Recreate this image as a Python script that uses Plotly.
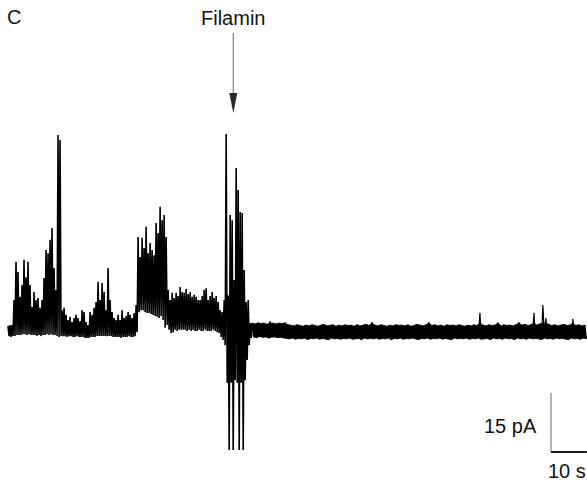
import plotly.graph_objects as go

# ---- Data (current trace, pA) ----
# busy part of the record: samples every FAST_DT seconds
FAST_T0 = 0.28
FAST_DT = 0.556
FAST_TOP = [1.3, 1.5, 1.5, 7.9, 17.6, 15.0, 8.7, 11.7, 18.1, 13.7,
            17.6, 11.7, 6.1, 9.9, 7.9, 8.4, 5.9, 7.9, 13.5, 20.6,
            19.8, 23.2, 26.2, 16.0, 10.4, 49.9, 48.6, 5.3, 5.9, 4.1,
            2.8, 3.6, 2.3, 3.3, 4.1, 3.3, 2.5, 5.3, 4.8, 2.3,
            1.5, 4.8, 4.1, 5.9, 7.4, 12.5, 7.9, 12.2, 9.9, 5.3,
            16.0, 7.9, 4.8, 3.3, 2.8, 4.1, 2.8, 5.3, 3.3, 3.8,
            4.8, 4.1, 3.3, 4.6, 6.6, 23.9, 18.8, 23.7, 21.1, 26.5,
            19.8, 22.4, 20.6, 19.3, 27.5, 24.9, 31.6, 28.2, 29.5, 23.9,
            10.4, 7.9, 9.7, 8.4, 9.7, 8.9, 11.2, 9.9, 9.7, 10.7,
            9.4, 9.9, 8.7, 9.2, 8.7, 7.9, 7.9, 8.9, 10.4, 10.9,
            7.9, 8.9, 9.9, 8.4, 8.9, 7.4, 5.3, 4.8, 7.9, 50.1,
            9.0, 29.5, 28.2, 13.0, 41.5, 35.9, 30.3, 30.0, 15.5, 7.4,
            7.9, 2.0]
FAST_BOT = [-1.3, -1.5, -1.3, -1.3, -1.0, -1.0, -1.0, -0.8, -0.8, -1.0,
            -0.8, -1.0, -1.0, -1.0, -1.3, -1.0, -1.3, -1.0, -1.0, -0.8,
            -1.0, -0.8, -1.0, -1.0, -1.3, -1.5, -1.3, -1.3, -1.3, -1.5,
            -1.3, -1.3, -1.5, -1.5, -1.3, -1.5, -1.5, -1.5, -1.8, -1.8,
            -1.8, -1.5, -1.5, -1.5, -1.3, -1.3, -1.3, -1.3, -1.3, -1.3,
            -1.3, -1.3, -1.5, -1.5, -1.5, -1.5, -1.8, -1.5, -1.5, -1.5,
            -1.3, -1.5, -1.5, -1.3, -0.3, 4.8, 5.3, 5.3, 4.8, 4.6,
            4.6, 4.3, 4.1, 3.8, 3.6, 3.3, 3.8, 2.8, 0.8, 1.5,
            0.3, -0.5, -0.3, 0.3, 0.0, 0.3, 0.3, 0.3, 0.3, 0.0,
            0.3, 0.0, 0.3, 0.0, 0.0, 0.3, 0.0, 0.0, 0.3, 0.0,
            0.0, 0.0, 0.3, 0.0, -0.3, -0.5, -1.5, -2.3, -3.6, -13.2,
            -30.3, -13.2, -30.3, -12.5, -13.2, -30.3, -13.2, -30.3, -12.5, -7.4,
            -3.6, -1.8]

# quiet part of the record after filamin: samples every SLOW_DT seconds
SLOW_T0 = 68.06
SLOW_DT = 0.833
SLOW_TOP = [2.0, 1.8, 2.2, 1.9, 2.1, 1.7, 2.5, 2.0, 1.8, 2.1,
            1.9, 2.2, 1.6, 1.5, 1.3, 1.6, 1.4, 1.2, 1.5, 1.3,
            1.6, 1.4, 1.2, 1.5, 1.7, 1.3, 1.4, 1.6, 1.2, 1.5,
            1.3, 1.6, 1.4, 1.5, 1.2, 1.6, 1.3, 1.5, 1.7, 1.4,
            2.3, 1.5, 1.3, 1.6, 1.4, 1.2, 1.5, 1.3, 1.6, 1.4,
            1.5, 1.3, 1.6, 1.2, 1.4, 1.7, 1.5, 1.3, 1.6, 2.3,
            1.4, 1.6, 1.3, 1.5, 1.2, 1.6, 1.4, 1.5, 1.3, 1.6,
            1.4, 1.2, 1.5, 1.3, 1.6, 1.4, 4.6, 1.5, 1.3, 1.6,
            1.4, 1.5, 2.2, 1.3, 1.6, 1.4, 1.5, 1.3, 1.6, 2.3,
            1.5, 1.7, 1.4, 1.6, 4.6, 1.5, 1.8, 6.6, 3.3, 1.6,
            1.4, 1.6, 1.3, 1.5, 1.7, 1.4, 1.5, 3.1, 1.4, 1.6, 1.3, 1.5]
SLOW_BOT = [-1.5, -1.7, -1.4, -1.6, -1.5, -1.8, -1.6, -1.5, -1.7, -1.6,
            -1.8, -1.9, -2.0, -1.8, -2.1, -1.9, -2.0, -1.8, -2.2, -1.9,
            -2.0, -1.8, -2.1, -1.9, -2.0, -2.2, -1.8, -2.0, -1.9, -2.1,
            -1.9, -2.0, -1.8, -2.1, -2.0, -1.9, -2.2, -1.8, -2.0, -1.9,
            -2.0, -1.8, -2.1, -1.9, -2.0, -1.8, -2.2, -1.9, -2.0, -1.8,
            -2.1, -1.9, -2.0, -1.8, -2.0, -2.2, -1.9, -2.0, -1.8, -2.1,
            -1.9, -2.0, -1.8, -2.1, -1.9, -2.0, -2.2, -1.8, -2.0, -1.9,
            -2.0, -1.8, -2.1, -1.9, -2.0, -1.8, -2.1, -2.0, -1.9, -2.2,
            -1.8, -2.0, -1.9, -2.1, -1.8, -2.0, -1.9, -2.2, -1.8, -2.0,
            -1.9, -2.1, -1.8, -2.0, -1.9, -2.0, -2.2, -1.8, -2.0, -1.9,
            -2.1, -1.8, -2.0, -1.9, -2.0, -2.2, -1.8, -2.0, -1.9, -2.1, -1.8, -2.0]

# scale bar and labels
SCALE_T = 10      # s
SCALE_I = 15      # pA
SCALE_T0 = 151.1  # s, corner of the scale bar
SCALE_I0 = -30.8  # pA
LABEL_PANEL = "C"
LABEL_DRUG = "Filamin"
LABEL_I = "15 pA"
LABEL_T = "10 s"

BAND_CAP = 2.0  # pA; openings above this stay thin lines, not part of the filled noise band


def zigzag(t0, dt, tops, bots):
    xs, ys = [], []
    for i, (a, b) in enumerate(zip(tops, bots)):
        t = t0 + i * dt
        xs += [t, t + dt / 2]
        ys += [a, b]
    return xs, ys


W, H = 587, 481
XR = [-1.944, 161.11]
YR = [-38.17, 84.22]


def px(x):
    return x / W


def py(y):
    return 1 - y / H


fig = go.Figure()
fx, fy = zigzag(FAST_T0, FAST_DT, FAST_TOP, FAST_BOT)
sx, sy = zigzag(SLOW_T0, SLOW_DT, SLOW_TOP, SLOW_BOT)

# solid noise band of the quiet record (envelope fill)
slow_t = [SLOW_T0 + i * SLOW_DT for i in range(len(SLOW_TOP))]
fig.add_trace(go.Scatter(x=slow_t, y=[min(v, BAND_CAP) for v in SLOW_TOP], mode="lines",
                         line=dict(color="#000000", width=0.8),
                         hoverinfo="skip", showlegend=False))
fig.add_trace(go.Scatter(x=[t + SLOW_DT / 2 for t in slow_t], y=SLOW_BOT, mode="lines",
                         line=dict(color="#000000", width=0.8), fill="tonexty",
                         fillcolor="#000000", hoverinfo="skip", showlegend=False))

# the raw record as a dense zigzag
fig.add_trace(go.Scatter(x=fx + sx[:1], y=fy + sy[:1], mode="lines",
                         line=dict(color="#000000", width=1.6),
                         hoverinfo="skip", showlegend=False))
fig.add_trace(go.Scatter(x=sx, y=sy, mode="lines",
                         line=dict(color="#000000", width=1.2),
                         hoverinfo="skip", showlegend=False))

# scale bar
fig.add_shape(type="line", x0=SCALE_T0, x1=SCALE_T0, y0=SCALE_I0, y1=SCALE_I0 + SCALE_I,
              xref="x", yref="y", line=dict(color="#8a8a8a", width=1.3))
fig.add_shape(type="line", x0=SCALE_T0, x1=SCALE_T0 + SCALE_T, y0=SCALE_I0, y1=SCALE_I0,
              xref="x", yref="y", line=dict(color="#1a1a1a", width=2))

# arrow
fig.add_shape(type="line", x0=px(233.3), x1=px(233.3), y0=py(33), y1=py(96),
              xref="paper", yref="paper", line=dict(color="#8a8a8a", width=1.3))
fig.add_shape(type="path",
              path=f"M {px(229.3)},{py(93)} L {px(237.3)},{py(93)} L {px(233.3)},{py(113)} Z",
              xref="paper", yref="paper", fillcolor="#2a2a2a", line=dict(width=0))

font = dict(family="Liberation Sans, Arial, sans-serif", size=20, color="#111111")
for text, x, y in ((LABEL_PANEL, 13.5, 17), (LABEL_DRUG, 233, 18),
                   (LABEL_I, 510, 426), (LABEL_T, 566.5, 471)):
    fig.add_annotation(text=text, x=px(x), y=py(y), xref="paper", yref="paper",
                       xanchor="center", yanchor="middle", showarrow=False, font=font)

fig.update_layout(width=W, height=H, margin=dict(l=0, r=0, t=0, b=0),
                  paper_bgcolor="white", plot_bgcolor="white",
                  xaxis=dict(range=XR, visible=False, fixedrange=True),
                  yaxis=dict(range=YR, visible=False, fixedrange=True))

fig.write_html("out.html", config={"displayModeBar": False},
               post_script="document.body.style.margin='0px';"
                           "document.body.style.overflow='hidden';")
